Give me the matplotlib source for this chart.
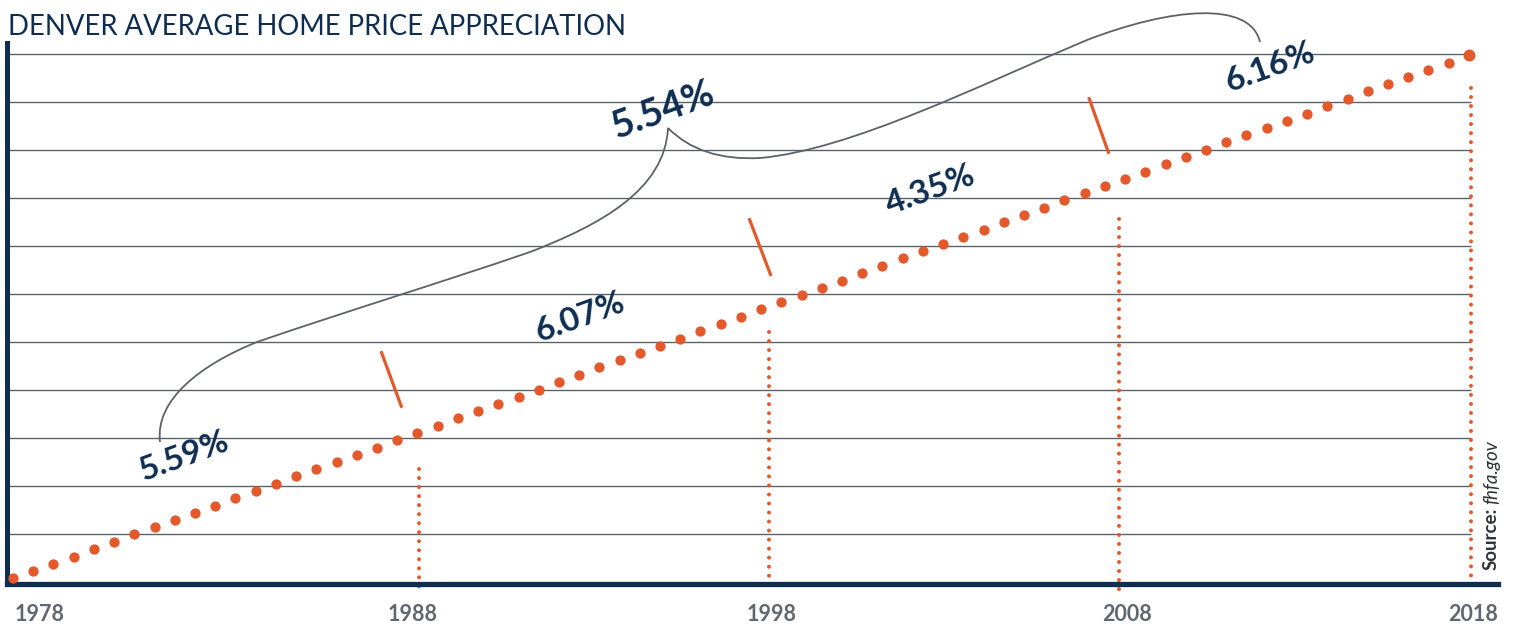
import numpy as np
import matplotlib
matplotlib.use("Agg")
import matplotlib.pyplot as plt
from matplotlib.path import Path
from matplotlib.patches import PathPatch

# dot values (one per dot, in grid units)
dot_values = [0.08, 0.23, 0.38, 0.53, 0.69, 0.84, 0.99, 1.14, 1.29, 1.44,
              1.59, 1.74, 1.90, 2.05, 2.20, 2.35, 2.50, 2.65, 2.80, 2.95,
              3.11, 3.26, 3.41, 3.56, 3.71, 3.86, 4.01, 4.17, 4.32, 4.47,
              4.62, 4.77, 4.92, 5.07, 5.22, 5.38, 5.53, 5.68, 5.83, 5.98,
              6.13, 6.28, 6.43, 6.59, 6.74, 6.89, 7.04, 7.19, 7.34, 7.49,
              7.65, 7.80, 7.95, 8.10, 8.25, 8.40, 8.55, 8.70, 8.86, 9.01,
              9.16, 9.31, 9.46, 9.61, 9.76, 9.92, 10.07, 10.22, 10.37, 10.52,
              10.67, 10.82, 10.97]

year_labels = ["1978", "1988", "1998", "2008", "2018"]
year_label_pos = [1.34, 19.75, 37.5, 55.1, 72.2]

marker_years_pos = [20.06, 37.37, 54.71, 72.09]   # dotted drop lines
marker_years_top = [2.35, 5.21, 7.56, 10.29]

rates = ["5.59%", "6.07%", "4.35%", "5.54%", "6.16%"]
rate_pos = [(8.45, 2.62), (28.04, 5.52), (45.35, 8.17), (32.15, 9.83), (62.17, 10.73)]
rate_size = [24, 24, 24, 27.5, 24]

# period separators (x0, y0, x1, y1)
separators = [(18.2, 4.81, 19.23, 3.63),
              (36.4, 7.58, 37.49, 6.375),
              (53.2, 10.10, 54.2, 8.92)]

grid_levels = list(range(1, 12))

ORANGE = "#e4592b"
NAVY = "#0e2d50"
GRAY = "#5d6268"

W, H = 1515, 626
X0_PX, DX_PX = 13, 20.22
Y0_PX, DY_PX = 582, 48


def px_to_data(px, py):
    return (px - X0_PX) / DX_PX, (Y0_PX - py) / DY_PX


plt.rcParams['font.family'] = ['Lato', 'DejaVu Sans']

fig = plt.figure(figsize=(W / 100, H / 100), dpi=100)
ax_left, ax_right, ax_top, ax_bot = 6.5, 1498, 43, 583.5
ax = fig.add_axes([ax_left / W, 1 - ax_bot / H, (ax_right - ax_left) / W, (ax_bot - ax_top) / H])
ax.set_xlim(px_to_data(ax_left, 0)[0], px_to_data(ax_right, 0)[0])
ax.set_ylim(px_to_data(0, ax_bot)[1], px_to_data(0, ax_top)[1])

# horizontal rules
ax.hlines(grid_levels, ax.get_xlim()[0], marker_years_pos[-1], color=GRAY, lw=1.0, zorder=1)

# dotted drop lines for each decade
for x, top in zip(marker_years_pos, marker_years_top):
    ax.plot([x, x], [top, -0.21], color=ORANGE, lw=2.9, ls=(0, (0.001, 2.24)),
            dash_capstyle='round', clip_on=False, zorder=2)

# the dots
xs = np.arange(len(dot_values))
ax.plot(xs[:-1], dot_values[:-1], 'o', color=ORANGE, ms=7.4, mec='none', clip_on=False, zorder=5)
ax.plot(xs[-1:], dot_values[-1:], 'o', color=ORANGE, ms=8.6, mec='none', clip_on=False, zorder=5)

# separators between periods
for x0, y0, x1, y1 in separators:
    ax.plot([x0, x1], [y0, y1], color=ORANGE, lw=2.3, solid_capstyle='butt', zorder=3)

# curly brace connecting the three long-run averages
brace_px = [(160, 442), (155, 400), (200, 365), (257, 342),
            (350, 310), (440, 283), (530, 252),
            (600, 225), (665, 190), (668, 128),
            (690, 150), (720, 160), (760, 158),
            (850, 150), (980, 85), (1087, 40),
            (1170, 8), (1250, 0), (1260, 42)]
verts = [px_to_data(px, py) for px, py in brace_px]
codes = [Path.MOVETO] + [Path.CURVE4] * (len(verts) - 1)
ax.add_patch(PathPatch(Path(verts, codes), fill=False, edgecolor=GRAY, lw=1.3,
                       clip_on=False, zorder=2))

# rate labels
for txt, (x, y), s in zip(rates, rate_pos, rate_size):
    ax.text(x, y, txt, color=NAVY, fontsize=s, fontweight='bold', rotation=20,
            rotation_mode='anchor', ha='center', va='center', zorder=6)

# axis styling
for side in ['top', 'right']:
    ax.spines[side].set_visible(False)
ax.spines['bottom'].set_linewidth(3.8)
ax.spines['bottom'].set_color(NAVY)
ax.spines['left'].set_linewidth(3.6)
ax.spines['left'].set_color(NAVY)
ax.set_xticks([])
ax.set_yticks([])

# year labels under the axis
for lab, x in zip(year_labels, year_label_pos):
    ax.text(x, -0.67, lab, color="#61676e", fontsize=15.5, fontweight='bold',
            ha='center', va='center', clip_on=False)

fig.text(8 / W, 1 - 27 / H, "DENVER AVERAGE HOME PRICE APPRECIATION", color=NAVY,
         fontsize=19.8, fontweight='normal', ha='left', va='center')

fig.text(1497 / W, 1 - 570 / H, "Source:", color="#2f3236", fontsize=13.5, fontweight='bold',
         rotation=90, rotation_mode='anchor', ha='left', va='baseline')
fig.text(1497 / W, 1 - 504 / H, "fhfa.gov", color="#2f3236", fontsize=13.5, fontstyle='italic',
         fontweight='normal', rotation=90, rotation_mode='anchor', ha='left', va='baseline')

fig.savefig("out.png", dpi=100)
